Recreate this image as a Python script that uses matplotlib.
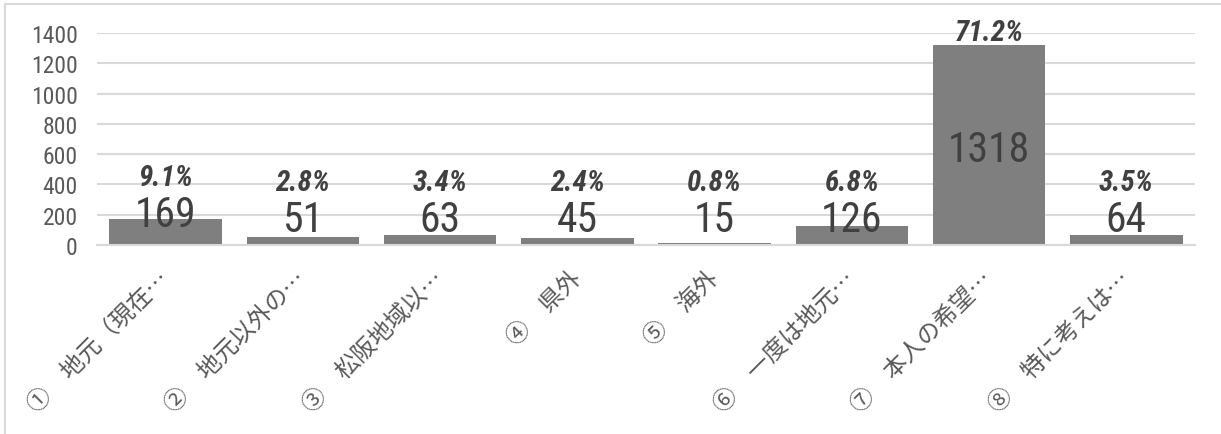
import matplotlib
matplotlib.use("Agg")
import matplotlib.pyplot as plt
from matplotlib.lines import Line2D
from matplotlib.transforms import ScaledTranslation

# データ
categories = ["①　地元（現在…", "②　地元以外の…", "③　松阪地域以…", "④　県外",
              "⑤　海外", "⑥　一度は地元…", "⑦　本人の希望…", "⑧　特に考えは…"]
counts = [169, 51, 63, 45, 15, 126, 1318, 64]
percents = ["9.1%", "2.8%", "3.4%", "2.4%", "0.8%", "6.8%", "71.2%", "3.5%"]

narrow = ["Roboto Condensed", "Liberation Sans Narrow", "DejaVu Sans Condensed", "Roboto", "DejaVu Sans"]
cjk = ["Noto Sans CJK JP", "DejaVu Sans"]

fig = plt.figure(figsize=(12.21, 4.35), dpi=100)
ax = fig.add_axes([97 / 1221, 1 - 246 / 435, (1195 - 97) / 1221, (246 - 34) / 435])

x = list(range(len(categories)))
ax.bar(x, counts, width=0.82, color="#7f7f7f", zorder=2)

ax.set_xlim(-0.5, len(categories) - 0.5)
ax.set_ylim(0, 1400)
ax.set_yticks(range(0, 1401, 200))
ax.yaxis.grid(True, color="#d9d9d9", linewidth=1.5, zorder=0)
ax.set_axisbelow(True)
for s in ["top", "right", "left"]:
    ax.spines[s].set_visible(False)
ax.spines["bottom"].set_color("#d9d9d9")
ax.spines["bottom"].set_linewidth(1.5)
ax.spines["bottom"].set_zorder(3)

ax.tick_params(axis="y", length=0, pad=14, labelcolor="#595959")
ax.tick_params(axis="x", length=0, pad=0)
for lab in ax.get_yticklabels():
    lab.set_family(narrow)
    lab.set_fontsize(17)

# 項目名は45度回転、末尾を棒の中心にそろえる
ax.set_xticks(x)
ax.set_xticklabels(categories, rotation=45, ha="right", va="center",
                   rotation_mode="anchor", color="#595959", fontsize=17, family=cjk)
for lab in ax.get_xticklabels():
    lab.set_transform(lab.get_transform() + ScaledTranslation(0, -29 / 100, fig.dpi_scale_trans))

# 数値ラベル
for xi, v, p in zip(x, counts, percents):
    if v > 700:
        num_y = v / 2
        pct_y = v + 106
    else:
        num_y = max(v + 62, 198)
        pct_y = num_y + 240
    ax.text(xi, num_y, str(v), ha="center", va="center_baseline", fontsize=30,
            color="#404040", family=narrow, zorder=4)
    ax.text(xi, pct_y, p, ha="center", va="center_baseline", fontsize=21,
            color="#404040", family=narrow, style="italic", weight="bold",
            zorder=4, clip_on=False)

# 枠線（左と上）
fig.add_artist(Line2D([5 / 1221, 5 / 1221], [0, 1 - 5 / 435], color="#d9d9d9", linewidth=1.5))
fig.add_artist(Line2D([5 / 1221, 1], [1 - 5 / 435, 1 - 5 / 435], color="#d9d9d9", linewidth=1.5))

fig.savefig("out.png", dpi=100)
